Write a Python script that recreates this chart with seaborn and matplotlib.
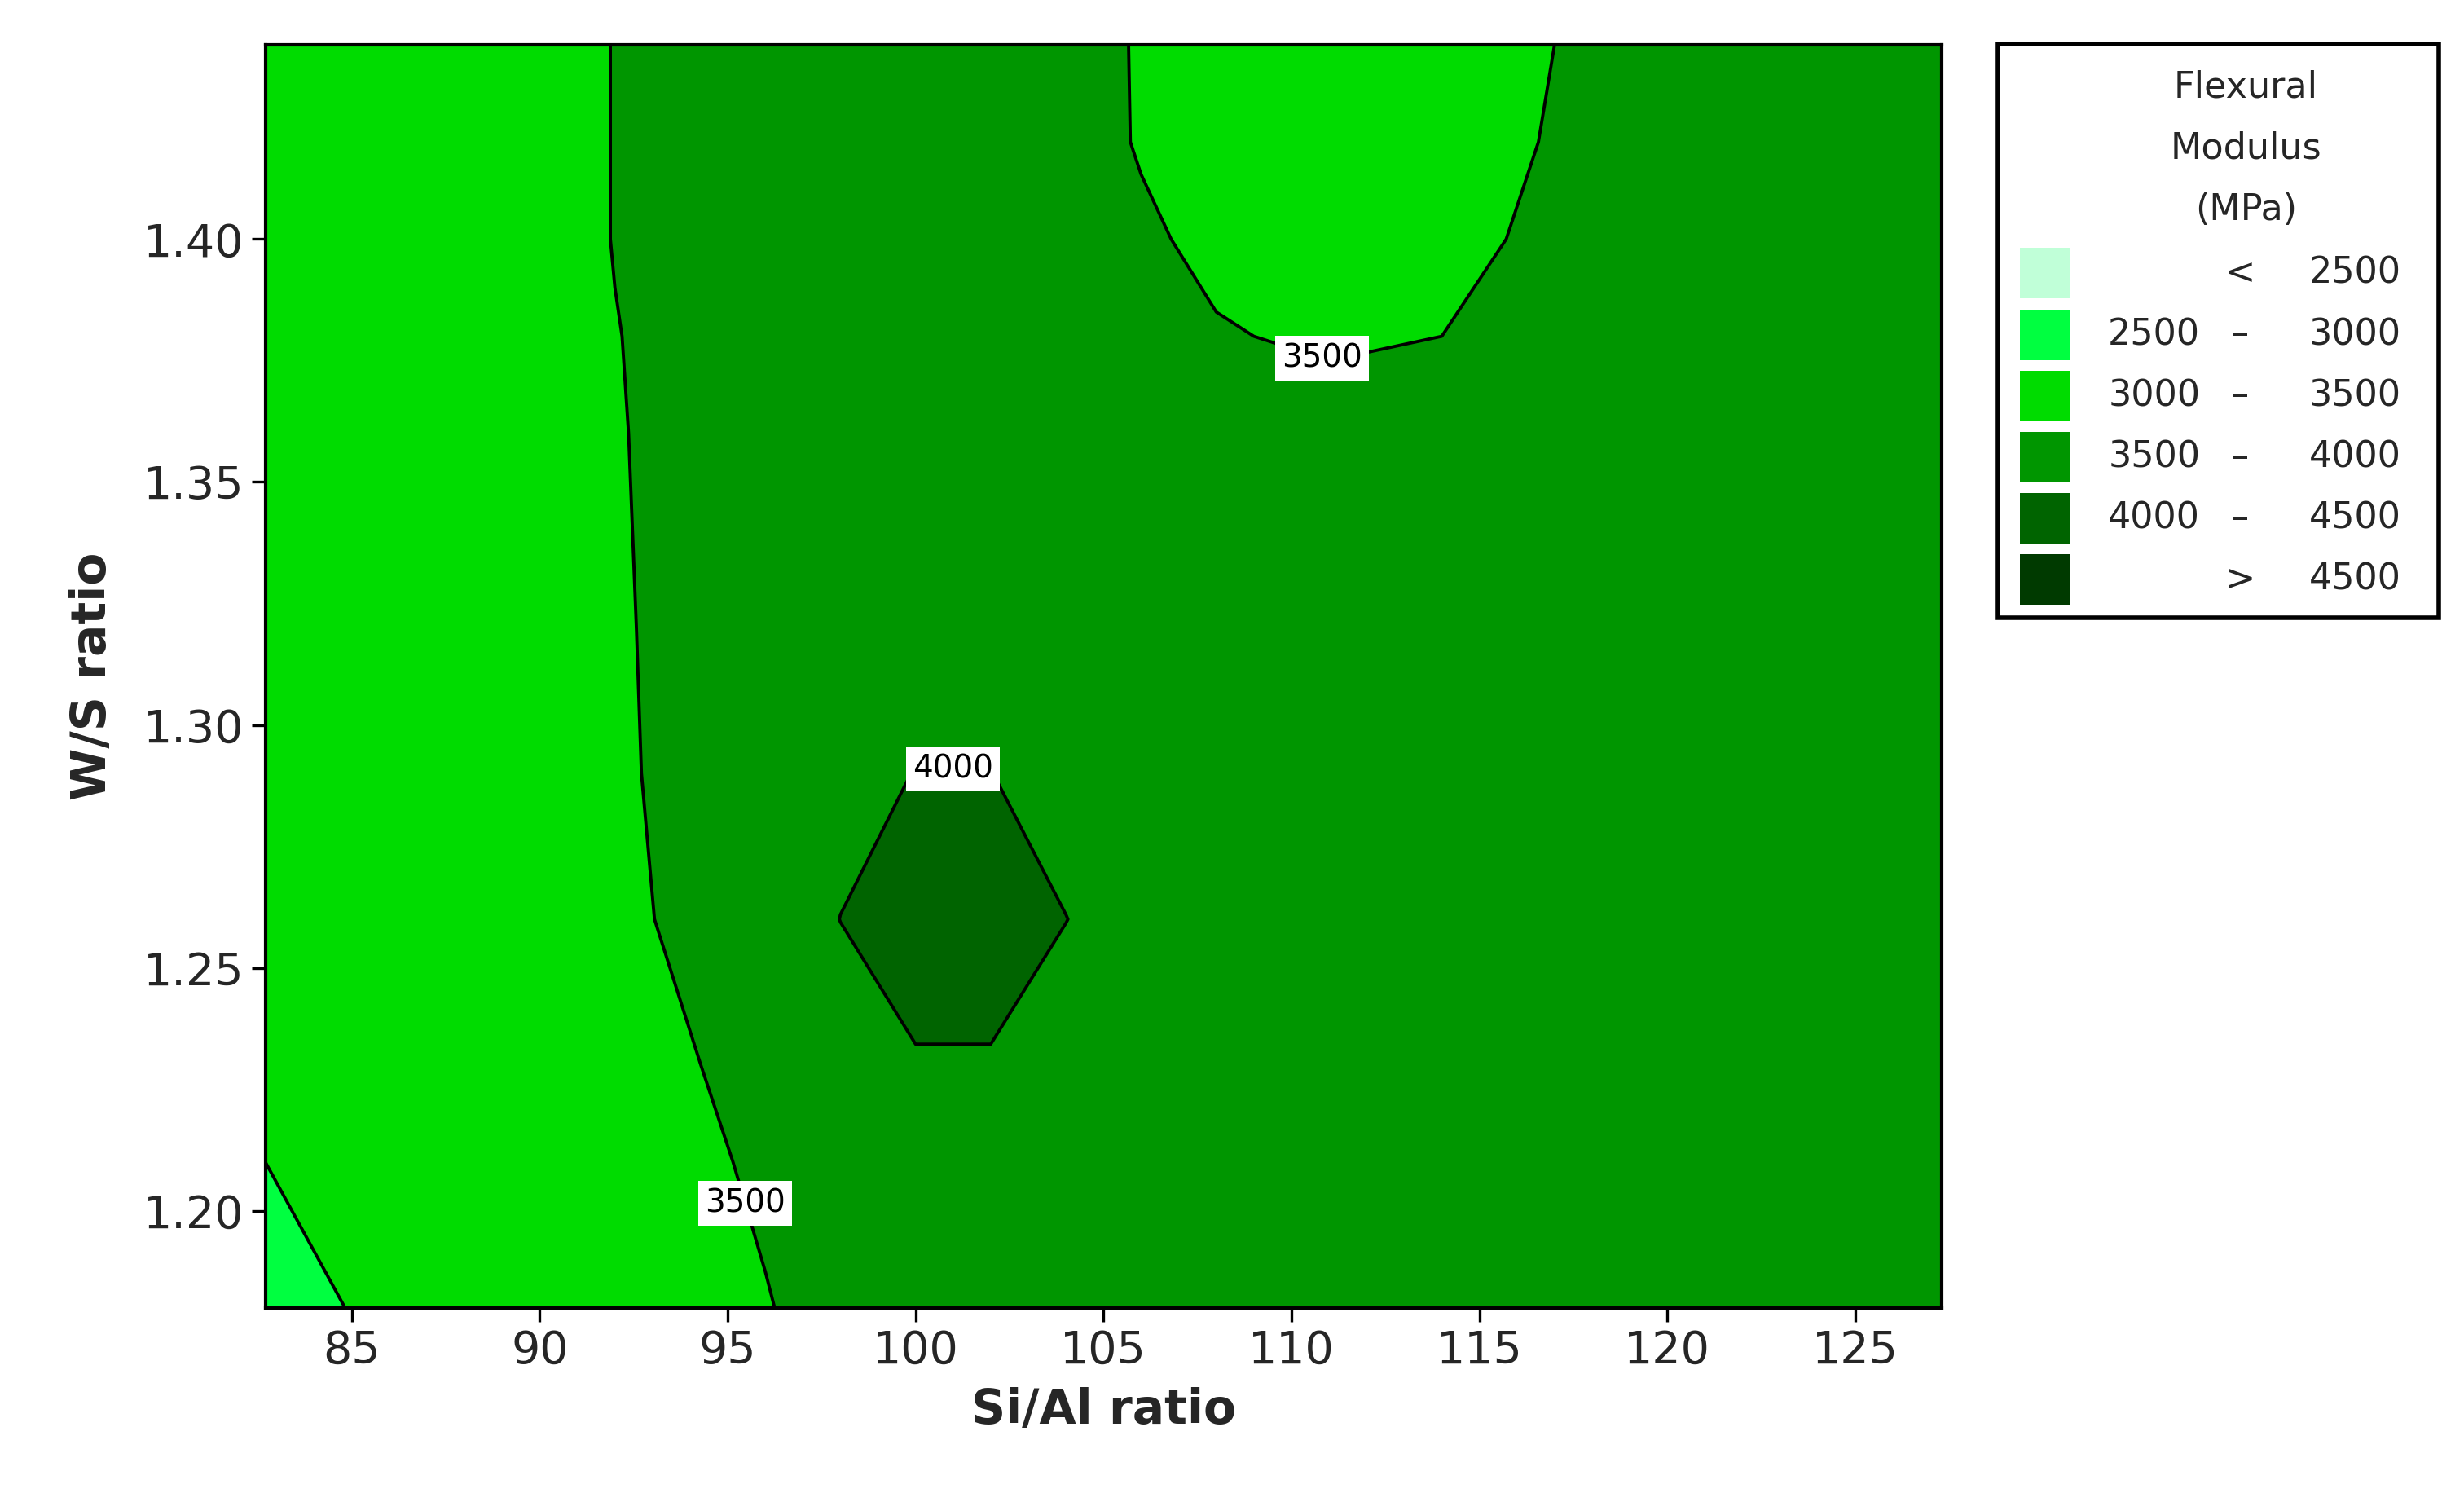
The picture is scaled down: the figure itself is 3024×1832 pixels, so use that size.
import numpy as np
import matplotlib
matplotlib.use("Agg")
import matplotlib.pyplot as plt
import seaborn as sns
from matplotlib.patches import Rectangle

sns.set_theme(style="white")
plt.rcParams['font.family'] = ['DejaVu Sans']

si_al = [82.7, 88, 92, 96, 98, 100, 102, 104, 106, 108, 111, 114, 117, 122, 127.3]
ws = [1.18, 1.21, 1.23, 1.26, 1.29, 1.32, 1.36, 1.38, 1.40, 1.42, 1.44]
modulus = [
    [2900, 3150, 3350, 3490, 3570, 3640, 3680, 3700, 3700, 3700, 3690, 3680, 3670, 3650, 3640],
    [3000, 3220, 3390, 3530, 3620, 3700, 3720, 3720, 3710, 3710, 3700, 3690, 3680, 3660, 3650],
    [3050, 3260, 3420, 3560, 3760, 3990, 3990, 3820, 3760, 3740, 3720, 3700, 3690, 3670, 3650],
    [3080, 3290, 3450, 3640, 4005, 4060, 4060, 4005, 3820, 3770, 3740, 3720, 3700, 3680, 3660],
    [3100, 3310, 3470, 3640, 3850, 4010, 4005, 3850, 3780, 3760, 3740, 3720, 3700, 3680, 3660],
    [3110, 3320, 3480, 3620, 3700, 3760, 3770, 3760, 3720, 3680, 3650, 3660, 3680, 3680, 3660],
    [3120, 3330, 3490, 3600, 3660, 3690, 3690, 3680, 3640, 3590, 3560, 3580, 3630, 3660, 3650],
    [3125, 3335, 3495, 3600, 3650, 3670, 3670, 3640, 3570, 3510, 3480, 3500, 3560, 3650, 3650],
    [3130, 3340, 3505, 3600, 3640, 3660, 3660, 3580, 3520, 3470, 3440, 3460, 3530, 3640, 3650],
    [3130, 3340, 3505, 3600, 3640, 3660, 3650, 3560, 3490, 3440, 3420, 3440, 3510, 3630, 3650],
    [3130, 3340, 3505, 3600, 3640, 3655, 3640, 3550, 3490, 3440, 3420, 3440, 3500, 3630, 3650],
]
levels = [0, 2500, 3000, 3500, 4000, 4500, 10000]
colors = ['#c0ffd8', '#00ff40', '#00dc00', '#009600', '#006400', '#003a00']
legend_lo = ['', '2500', '3000', '3500', '4000', '']
legend_mid = ['<', '–', '–', '–', '–', '>']
legend_hi = ['2500', '3000', '3500', '4000', '4500', '4500']

fig = plt.figure(figsize=(15.12, 9.16), dpi=200)
ax = fig.add_axes([0.1077, 0.124, 0.6803, 0.846])
X, Y = np.meshgrid(si_al, ws)
Z = np.array(modulus, dtype=float)
ax.contourf(X, Y, Z, levels=levels, colors=colors)
ax.contour(X, Y, Z, levels=[3000], colors='black', linewidths=1.4)
cs = ax.contour(X, Y, Z, levels=[3500, 4000], colors='black', linewidths=1.4)
labs = ax.clabel(cs, inline=False, fontsize=14, fmt='%d',
                 manual=[(111, 1.38), (101, 1.293), (94.8, 1.20)])
for t in labs:
    t.set_rotation(0)
    t.set_bbox(dict(facecolor='white', edgecolor='none', pad=3))
ax.set_xlim(82.7, 127.3)
ax.set_ylim(1.18, 1.44)
ax.set_xticks([85, 90, 95, 100, 105, 110, 115, 120, 125])
ax.set_yticks([1.20, 1.25, 1.30, 1.35, 1.40])
ax.set_yticklabels(['1.20', '1.25', '1.30', '1.35', '1.40'])
ax.tick_params(labelsize=20, length=6, width=1.2, direction='out', bottom=True, left=True, color='black')
for s in ax.spines.values():
    s.set_color('black'); s.set_linewidth(1.5)
ax.set_xlabel('Si/Al ratio', fontsize=21, fontweight='bold', labelpad=6)
ax.set_ylabel('W/S ratio', fontsize=21, fontweight='bold', labelpad=12)

# legend
W, H = 1560.0, 945.0
def fx(x): return x / W
def fy(y): return 1 - y / H
fig.patches.append(Rectangle((fx(1265), fy(391)), fx(1544) - fx(1265), fy(28) - fy(391),
                             transform=fig.transFigure, fill=False, edgecolor='black', linewidth=2))
for i, line in enumerate(['Flexural', 'Modulus', '(MPa)']):
    fig.text(fx(1422), fy(55 + 39 * i), line, ha='center', va='center', fontsize=16)
for i in range(6):
    yc = 173 + 38.8 * i
    fig.patches.append(Rectangle((fx(1279), fy(yc + 16)), fx(1311) - fx(1279), fy(yc - 16) - fy(yc + 16),
                                 transform=fig.transFigure, facecolor=colors[i], edgecolor='none'))
    fig.text(fx(1393), fy(yc), legend_lo[i], ha='right', va='center', fontsize=16)
    fig.text(fx(1418), fy(yc), legend_mid[i], ha='center', va='center', fontsize=16)
    fig.text(fx(1520), fy(yc), legend_hi[i], ha='right', va='center', fontsize=16)

fig.savefig('out.png', dpi=200, facecolor='white')
